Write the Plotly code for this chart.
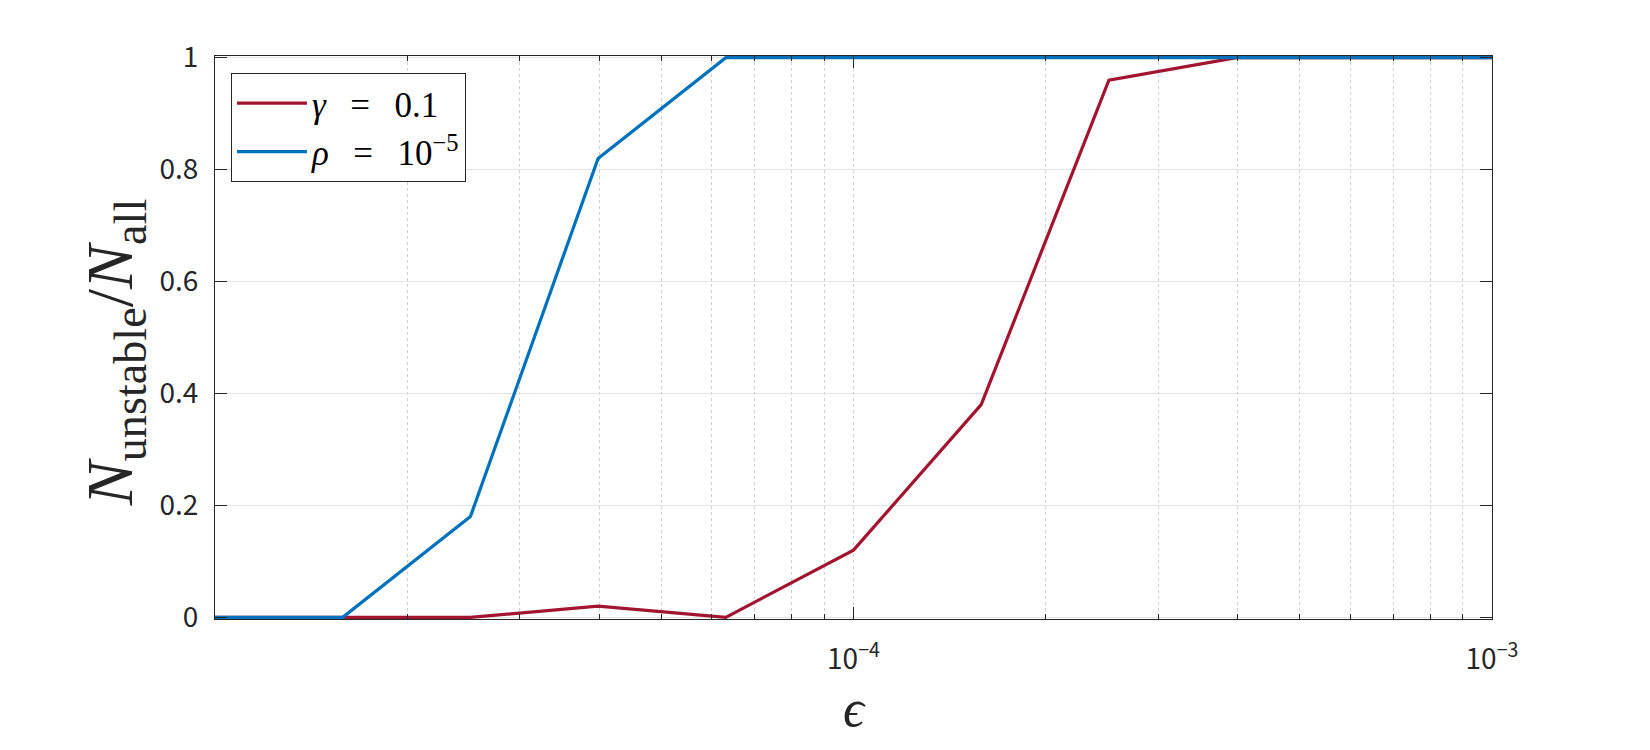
import plotly.graph_objects as go

# ---- data ----
eps = [1.0e-5, 1.585e-5, 2.512e-5, 3.981e-5, 6.310e-5, 1.0e-4,
       1.585e-4, 2.512e-4, 3.981e-4, 6.310e-4, 1.0e-3]
frac_gamma = [0, 0, 0, 0.02, 0, 0.12, 0.38, 0.96, 1, 1, 1]
frac_rho = [0, 0, 0.18, 0.82, 1, 1, 1, 1, 1, 1, 1]

SP = "\u2002\u2009"
series_names = ["<i>γ</i>" + SP + "=" + SP + "0.1",
                "<i>ρ</i>" + SP + "=" + SP + "10<sup>−5</sup>"]
series_colors = ["#A2142F", "#0072BD"]

y_tickvals = [0, 0.2, 0.4, 0.6, 0.8, 1]
y_ticktext = ["0", "0.2", "0.4", "0.6", "0.8", "1"]
x_major = [1e-5, 1e-4, 1e-3]
x_major_text = ["", "10<sup>−4</sup>", "10<sup>−3</sup>"]
x_minor = [2e-5, 3e-5, 4e-5, 5e-5, 6e-5, 7e-5, 8e-5, 9e-5,
           2e-4, 3e-4, 4e-4, 5e-4, 6e-4, 7e-4, 8e-4, 9e-4]
y_title = "<i>N</i><sub>unstable</sub>/<i>N</i><sub>all</sub>"
x_title = "<i>ϵ</i>"

AX = "#262626"
TICKFONT = dict(family="Noto Sans CJK JP", size=28, color=AX)
SERIF = "Liberation Serif, DejaVu Serif, serif"

fig = go.Figure()
for ys, name, col in zip([frac_gamma, frac_rho], series_names, series_colors):
    fig.add_trace(go.Scatter(x=eps, y=ys, mode="lines", name=name,
                             line=dict(color=col, width=3.2)))

fig.update_layout(
    width=1650, height=750,
    margin=dict(l=215, r=158, t=56, b=131),
    paper_bgcolor="white", plot_bgcolor="white",
    showlegend=True,
    legend=dict(x=0.0125, y=0.97, xanchor="left", yanchor="top",
                bgcolor="white", bordercolor="#262626", borderwidth=1,
                font=dict(family=SERIF, size=35, color="black"),
                tracegroupgap=0, itemwidth=70),
    annotations=[dict(text=y_title, textangle=-90, xref="paper", yref="paper",
                      x=-0.079, y=0.474, xanchor="center", yanchor="middle",
                      showarrow=False, font=dict(family=SERIF, size=66, color=AX))],
)

fig.update_xaxes(
    type="log", range=[-5, -3],
    tickmode="array", tickvals=x_major, ticktext=x_major_text,
    ticks="inside", ticklen=12, tickwidth=1, tickcolor=AX,
    tickfont=TICKFONT, ticklabelstandoff=15,
    showgrid=True, gridcolor="#cfcfcf", griddash="dot", gridwidth=1,
    minor=dict(tickmode="array", tickvals=x_minor, ticks="inside", ticklen=5,
               tickcolor=AX, showgrid=True, gridcolor="#cfcfcf", griddash="dot",
               gridwidth=1),
    showline=True, linecolor=AX, linewidth=1, mirror="ticks",
    zeroline=False,
    title=dict(text=x_title, font=dict(family=SERIF, size=52, color=AX), standoff=14),
)
fig.update_yaxes(
    range=[-0.003, 1.003],
    tickmode="array", tickvals=y_tickvals, ticktext=y_ticktext,
    ticks="inside", ticklen=12, tickwidth=1, tickcolor=AX,
    tickfont=TICKFONT, ticklabelstandoff=10,
    showgrid=True, gridcolor="#e3e3e3", gridwidth=1,
    showline=True, linecolor=AX, linewidth=1, mirror="ticks",
    zeroline=False,
)

fig.write_html("out.html", config={"displayModeBar": False},
               post_script="document.body.style.margin='0px';")
